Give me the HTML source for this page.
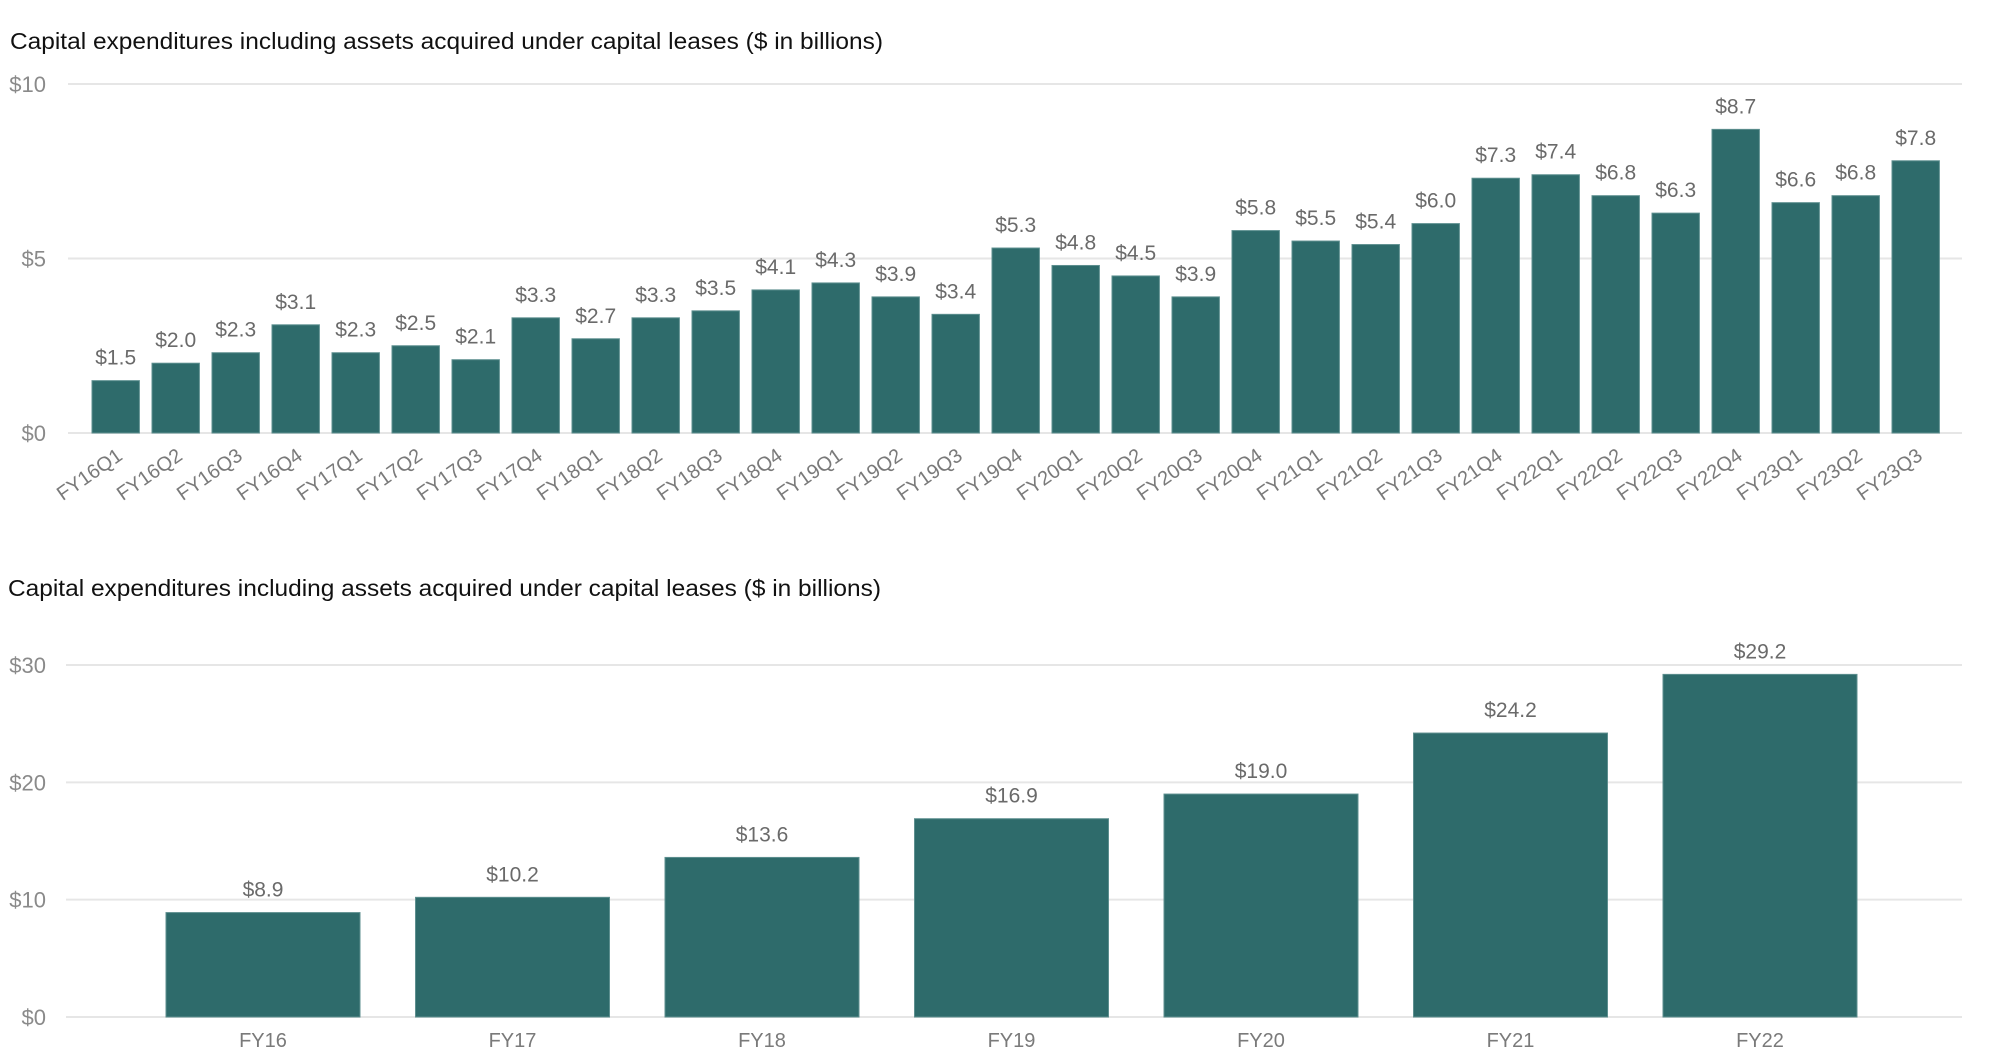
<!DOCTYPE html>
<html><head><meta charset="utf-8"><style>
html,body{margin:0;padding:0;background:#fff;}
svg{display:block;}
.title{font-family:"Liberation Sans",sans-serif;font-size:23px;fill:#111;}
.tick{font-family:"Liberation Sans Narrow","Liberation Sans",sans-serif;font-size:22px;fill:#8a8a8a;}
.val{font-family:"Liberation Sans Narrow","Liberation Sans",sans-serif;font-size:21px;fill:#6a6a6a;}
.xl{font-family:"Liberation Sans",sans-serif;font-size:20px;fill:#7a7a7a;}
</style></head><body>
<svg id="chart" width="2006" height="1062" viewBox="0 0 2006 1062" xmlns="http://www.w3.org/2000/svg">
<text class="title" x="10" y="49" textLength="873" lengthAdjust="spacingAndGlyphs">Capital expenditures including assets acquired under capital leases ($ in billions)</text>
<text class="title" x="8" y="596" textLength="873" lengthAdjust="spacingAndGlyphs">Capital expenditures including assets acquired under capital leases ($ in billions)</text>
<g id="top"></g>
<g id="bot"></g>
</svg>
<script>
const qCategories = ["FY16Q1","FY16Q2","FY16Q3","FY16Q4","FY17Q1","FY17Q2","FY17Q3","FY17Q4","FY18Q1","FY18Q2","FY18Q3","FY18Q4","FY19Q1","FY19Q2","FY19Q3","FY19Q4","FY20Q1","FY20Q2","FY20Q3","FY20Q4","FY21Q1","FY21Q2","FY21Q3","FY21Q4","FY22Q1","FY22Q2","FY22Q3","FY22Q4","FY23Q1","FY23Q2","FY23Q3"];
const qValues = [1.5,2.0,2.3,3.1,2.3,2.5,2.1,3.3,2.7,3.3,3.5,4.1,4.3,3.9,3.4,5.3,4.8,4.5,3.9,5.8,5.5,5.4,6.0,7.3,7.4,6.8,6.3,8.7,6.6,6.8,7.8];
const qTicks = [0,5,10];
const yCategories = ["FY16","FY17","FY18","FY19","FY20","FY21","FY22"];
const yValues = [8.9,10.2,13.6,16.9,19.0,24.2,29.2];
const yTicks = [0,10,20,30];

const NS="http://www.w3.org/2000/svg";
function mk(tag,attrs,parent,txt){const e=document.createElementNS(NS,tag);for(const k in attrs)e.setAttribute(k,attrs[k]);if(txt!==undefined)e.textContent=txt;parent.appendChild(e);return e;}

function drawChart(g,cats,vals,ticks,cfg){
  const yScale=v=>cfg.y0-(v-cfg.vmin)*(cfg.y0-cfg.y1)/(cfg.vmax-cfg.vmin);
  const xCenter=i=>cfg.firstCenter+i*cfg.pitch;
  ticks.forEach(t=>{
    const l=mk('line',{x1:cfg.gx0,x2:cfg.gx1,y1:yScale(t),y2:yScale(t),stroke:'#e6e6e6','stroke-width':2},g);
    
    
    const tx=mk('text',{x:46,y:yScale(t)+8,'text-anchor':'end',class:'tick'},g,'$'+t);
    
    
  });
  vals.forEach((v,i)=>{
    const cx=xCenter(i),top=yScale(v);
    const r=mk('rect',{x:cx-cfg.bw/2,y:top,width:cfg.bw,height:yScale(0)-top,fill:'#2e6b6b',stroke:'#5d8f8f','stroke-width':1},g);
    
    
    const t=mk('text',{x:cx,y:top-16,'text-anchor':'middle',class:'val'},g,'$'+v.toFixed(1));
    
    
    let xl;
    if(cfg.rotate){
      xl=mk('text',{x:cx,y:cfg.y0+14,'text-anchor':'end',class:'xl',transform:`rotate(-35 ${cx} ${cfg.y0+14})`},g,cats[i]);
      xl.setAttribute('dy','0.7em');
    } else {
      xl=mk('text',{x:cx,y:cfg.y0+30,'text-anchor':'middle',class:'xl'},g,cats[i]);
    }
    
    
  });
}
drawChart(document.getElementById('top'),qCategories,qValues,qTicks,{y0:433,y1:84,vmin:0,vmax:10,gx0:68,gx1:1962,firstCenter:115.7,pitch:60,bw:47.4,rotate:true});
drawChart(document.getElementById('bot'),yCategories,yValues,yTicks,{y0:1017,y1:665,vmin:0,vmax:30,gx0:66,gx1:1962,firstCenter:263,pitch:249.5,bw:194,rotate:false});
</script>
</body></html>
